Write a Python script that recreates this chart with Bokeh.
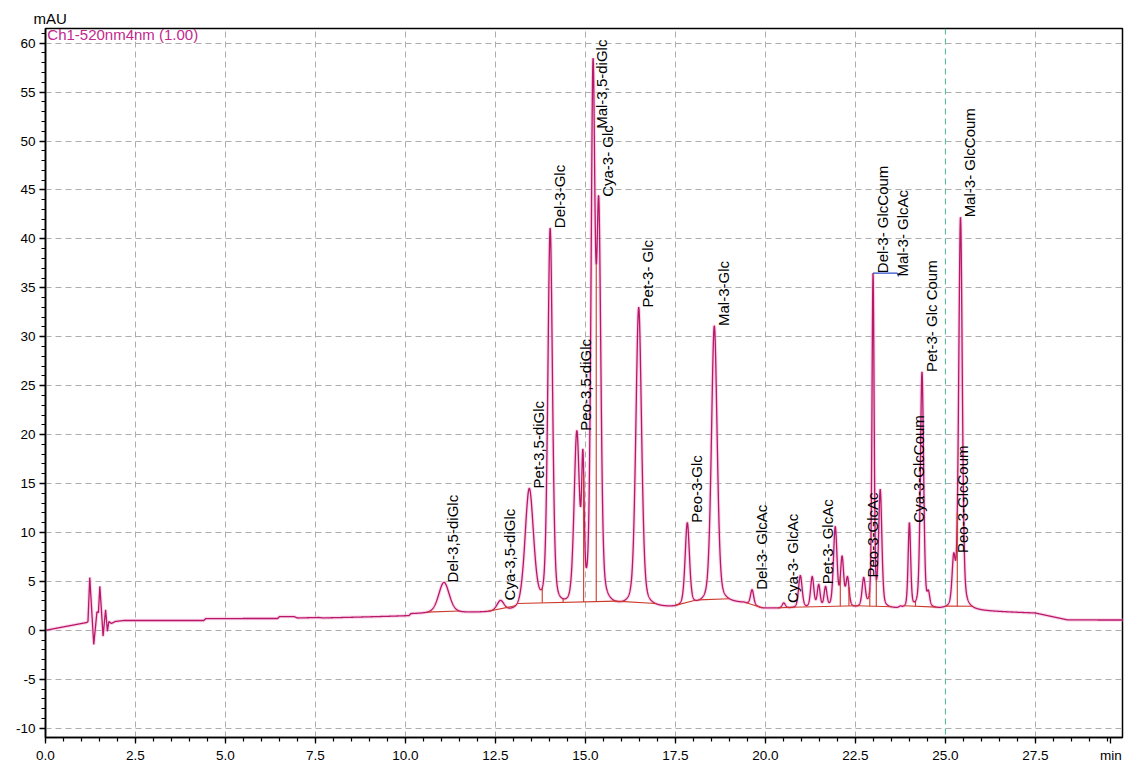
import numpy as np
from bokeh.plotting import figure
from bokeh.models import (ColumnDataSource, Label, Range1d, SingleIntervalTicker, FixedTicker,
                          Span)
from bokeh.core.properties import value
from bokeh.embed import file_html
from bokeh.resources import INLINE

# ---------------------------------------------------------------- data
# Detector drift and injection disturbance, Ch1 520 nm (time in min, signal in mAU)
drift_time = [0.0, 0.5, 1.15, 1.18, 1.23, 1.34, 1.43, 1.47, 1.51, 1.60, 1.64, 1.67, 1.72,
              1.76, 1.83, 1.94, 2.17, 4.40, 4.45, 6.45, 6.50, 6.90, 7.00, 7.60, 7.70, 8.90,
              10.10, 10.15, 12.0, 13.30, 13.35, 15.10, 15.15, 17.5, 18.0, 18.9, 19.4, 19.9,
              22.5, 25.6, 27.5, 28.4, 29.95]
drift_mau = [0.0, 0.35, 0.8, 0.9, 5.4, -1.45, 1.9, 1.8, 4.5, -0.6, 1.0, 2.1, -0.1,
             0.9, 0.7, 0.9, 1.0, 1.0, 1.2, 1.2, 1.4, 1.4, 1.25, 1.3, 1.25, 1.35,
             1.45, 1.65, 1.75, 1.8, 2.0, 2.0, 2.15, 2.2, 2.4, 2.7, 2.7, 2.2,
             2.2, 2.0, 1.75, 1.05, 1.05]

# Peaks: retention time (min), apex signal (mAU), peak sigma (min)
peak_rt = [11.07, 12.64, 13.44, 14.02, 14.76, 14.93, 15.21, 15.37, 16.48, 17.83, 18.58,
           19.63, 20.51, 20.97, 21.30, 21.48, 21.67, 21.94, 22.13, 22.28, 22.73,
           22.99, 23.19, 23.75, 24.00, 24.35, 24.53, 25.23, 25.42]
peak_apex = [4.9, 3.06, 14.5, 41.1, 20.4, 18.5, 58.4, 44.3, 33.0, 11.0, 31.1,
             4.15, 2.8, 5.6, 5.5, 4.7, 4.5, 10.6, 7.6, 5.5, 5.4,
             36.5, 14.4, 2.5, 11.0, 26.4, 4.1, 7.9, 42.2]
peak_sigma = [0.15, 0.10, 0.12, 0.065, 0.075, 0.035, 0.055, 0.06, 0.08, 0.06, 0.08,
              0.045, 0.045, 0.05, 0.045, 0.04, 0.04, 0.05, 0.045, 0.045, 0.045,
              0.03, 0.045, 0.035, 0.035, 0.045, 0.035, 0.045, 0.05]

# Identified anthocyanins and the retention time of the peak each one marks
label_text = ["Del-3,5-diGlc", "Cya-3,5-diGlc", "Pet-3,5-diGlc", "Del-3-Glc",
              "Peo-3,5-diGlc", "Mal-3,5-diGlc", "Cya-3- Glc", "Pet-3- Glc",
              "Peo-3-Glc", "Mal-3-Glc", "Del-3- GlcAc", "Cya-3- GlcAc",
              "Pet-3- GlcAc", "Peo-3-GlcAc", "Del-3- GlcCoum", "Mal-3- GlcAc",
              "Cya-3-GlcCoum", "Pet-3- Glc Coum", "Peo-3-GlcCoum", "Mal-3- GlcCoum"]
label_rt = [11.07, 12.64, 13.44, 14.02, 14.76, 15.21, 15.37, 16.48, 17.83, 18.58,
            19.63, 20.51, 21.48, 22.73, 22.99, 22.99, 24.00, 24.35, 25.23, 25.42]

# Integration baselines (start/end, min) and peak-split drop lines (min)
integ_start = [10.60, 12.30, 13.10, 15.85, 17.50, 18.15, 19.45, 20.35, 20.75, 22.55, 23.85, 25.00]
integ_end = [11.50, 13.05, 15.85, 16.95, 18.05, 19.00, 19.90, 20.75, 22.55, 23.50, 24.75, 25.75]
drop_rt = [13.80, 14.38, 14.95, 15.30, 22.08, 22.32, 22.90, 23.08, 24.17, 25.33]

x_ticks = [0.0, 2.5, 5.0, 7.5, 10.0, 12.5, 15.0, 17.5, 20.0, 22.5, 25.0, 27.5]
y_ticks = [-10, -5, 0, 5, 10, 15, 20, 25, 30, 35, 40, 45, 50, 55, 60]
x_unit, y_unit = "min", "mAU"

# ---------------------------------------------------------------- layout
W, H = 1127, 765
LEFT, RIGHT, TOP, BOTTOM = 45, 5, 28, 27
X0, X1 = 0.0, 29.92
Y0, Y1 = -10.95, 61.5
FRAME_H = H - TOP - BOTTOM
PX_PER_MAU = FRAME_H / (Y1 - Y0)
UNIT_TICK = 29.6  # where the time unit sits along the time axis

FONT = value("Liberation Sans")
TRACE = "#B8176A"
INTEG = "#CC3A2A"
LEADER = "#2F4FC8"

# ---------------------------------------------------------------- signal model
ETA = 0.35  # Lorentzian share of the pseudo-Voigt peak shape


def shape(tt, rt, s):
    d = (tt - rt) / s
    hw = s * np.sqrt(2.0 * np.log(2.0))
    return (1.0 - ETA) * np.exp(-0.5 * d * d) + ETA / (1.0 + ((tt - rt) / hw) ** 2)


rt_arr = np.array(peak_rt)
sg_arr = np.array(peak_sigma)
n = len(rt_arr)
M = np.array([[shape(rt_arr[i], rt_arr[j], sg_arr[j]) for j in range(n)] for i in range(n)])
amp = np.linalg.solve(M, np.array(peak_apex) - np.interp(rt_arr, drift_time, drift_mau))


def signal(tt):
    tt = np.asarray(tt, dtype=float)
    out = np.interp(tt, drift_time, drift_mau)
    for a, r, s in zip(amp, rt_arr, sg_arr):
        out = out + a * shape(tt, r, s)
    return out


t = np.union1d(np.linspace(0.0, 29.95, 9000), np.array(drift_time + peak_rt + label_rt))
v = signal(t)

# ---------------------------------------------------------------- figure
p = figure(width=W, height=H, output_backend="svg", toolbar_location=None,
           x_range=Range1d(X0, X1), y_range=Range1d(Y0, Y1),
           min_border_left=LEFT, min_border_right=RIGHT,
           min_border_top=TOP, min_border_bottom=BOTTOM,
           background_fill_color="white", border_fill_color="white")
p.outline_line_color = "black"
p.outline_line_width = 1.5

# unit of the signal axis, written above the axis top
p.title.text = y_unit
p.title.align = "left"
p.title.offset = -12
p.title.standoff = 3
p.title.text_font = "Liberation Sans"
p.title.text_font_size = "15px"
p.title.text_font_style = "normal"
p.title.text_color = "black"

minor_x = [round(0.5 * k, 1) for k in range(0, 60)]
p.xaxis.ticker = FixedTicker(ticks=x_ticks + [UNIT_TICK], minor_ticks=minor_x)
p.xaxis.major_label_overrides = {**{tk: f"{tk:.1f}" for tk in x_ticks}, UNIT_TICK: x_unit}
yt = SingleIntervalTicker(interval=5, num_minor_ticks=5)
p.yaxis.ticker = yt
p.yaxis.major_label_overrides = {k: str(k) for k in y_ticks}
p.xgrid.ticker = FixedTicker(ticks=[tk for tk in x_ticks if tk != 25.0])
p.ygrid.ticker = yt

for ax in (p.xaxis[0], p.yaxis[0]):
    ax.axis_line_color = "black"
    ax.axis_line_width = 1.6
    ax.major_tick_line_color = "black"
    ax.minor_tick_line_color = "black"
    ax.major_tick_line_width = 1.3
    ax.minor_tick_line_width = 1.2
    ax.major_tick_in = 0
    ax.minor_tick_in = 0
    ax.major_tick_out = 6
    ax.minor_tick_out = 4
    ax.major_label_text_font = "Liberation Sans"
    ax.major_label_text_font_size = "13.5px"
    ax.major_label_text_color = "black"
    ax.major_label_standoff = 4

for g in (p.xgrid[0], p.ygrid[0]):
    g.grid_line_color = "#ADADAD"
    g.grid_line_dash = "6 4"
    g.grid_line_width = 1

p.add_layout(Span(location=25.0, dimension="height", line_color="#4FB09C",
                  line_dash="6 4", line_width=1))

# trace with a soft halo underneath
p.line(t, v, line_color="#F3A6CD", line_width=3.5, line_alpha=0.45)
p.line(t, v, line_color=TRACE, line_width=1.3)

# integration baselines and drop lines
seg_y0 = signal(integ_start)
seg_y1 = signal(integ_end)
p.segment(x0=integ_start, y0=seg_y0, x1=integ_end, y1=seg_y1,
          line_color=INTEG, line_width=1.1)
drop_base, drop_top = [], []
for d in drop_rt:
    for s0, s1, a0, a1 in zip(integ_start, integ_end, seg_y0, seg_y1):
        if s0 <= d <= s1:
            drop_base.append(a0 + (a1 - a0) * (d - s0) / (s1 - s0))
            break
    drop_top.append(float(signal(d)))
p.segment(x0=drop_rt, y0=drop_base, x1=drop_rt, y1=drop_top,
          line_color=INTEG, line_width=1.1)

# peak labels, vertical, starting at the apex; kept inside the frame
LABEL_PX = 15
leader_shift = {"Mal-3- GlcAc": 0.67}
norm_x, norm_y, norm_t = [], [], []
for txt, r in zip(label_text, label_rt):
    apex = float(signal(r))
    length = 0.5 * LABEL_PX * len(txt) / PX_PER_MAU
    y = min(apex, Y1 - length - 0.3)
    if txt in leader_shift:
        x_end = r + leader_shift[txt]
        p.line([r, x_end, x_end + 0.04], [apex, apex, apex - 0.35],
               line_color=LEADER, line_width=1.2)
        p.text(x=[x_end], y=[apex - 0.35], text=[txt], angle=np.pi / 2,
               x_offset=5, text_align="left", text_baseline="middle",
               text_font=FONT, text_font_size=f"{LABEL_PX}px", text_color="black")
        continue
    norm_x.append(r)
    norm_y.append(y)
    norm_t.append(txt)

p.text(x="x", y="y", text="text", source=ColumnDataSource(dict(x=norm_x, y=norm_y, text=norm_t)),
       angle=np.pi / 2, x_offset=9, text_align="left", text_baseline="middle",
       text_font=FONT, text_font_size=f"{LABEL_PX}px", text_color="black")

# channel caption
p.add_layout(Label(x=0.05, y=60.85, text="Ch1-520nm4nm (1.00)", text_font="Liberation Sans",
                   text_font_size="15px", text_color="#C2288E", text_baseline="middle"))

open("out.html", "w").write(file_html(p, INLINE))
